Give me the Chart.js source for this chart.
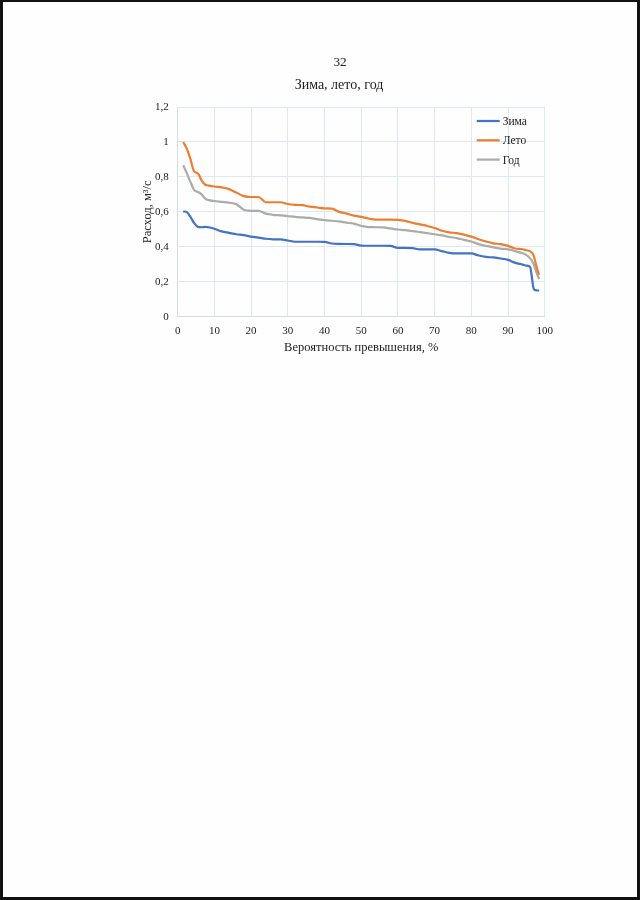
<!DOCTYPE html>
<html>
<head>
<meta charset="utf-8">
<script src="https://cdn.jsdelivr.net/npm/chart.js@4/dist/chart.umd.min.js"></script>
<style>
  html, body { margin: 0; padding: 0; background: #fff; }
  #page {
    position: relative; width: 640px; height: 900px; box-sizing: border-box;
    border-top: 2px solid #111; border-left: 3px solid #111;
    border-right: 3px solid #111; border-bottom: 3px solid #111;
    background: #fefefe; overflow: hidden;
  }
  #pageNum {
    position: absolute; left: 0; width: 674px; top: 52px; text-align: center;
    font-family: "Liberation Serif", serif; font-size: 13px; color: #222;
  }
  #wrap { position: absolute; left: 94px; top: 38px; width: 480px; height: 330px; }
</style>
</head>
<body>
<div id="page">
  <div id="pageNum">32</div>
  <div id="wrap"><canvas id="chart"></canvas></div>
</div>
<script>
// probability of exceedance, %
const probability = [1.5, 2.5, 3.5, 4.5, 5.5, 6.5, 7.5, 8.5, 10, 12, 14, 16, 18, 20, 22, 24, 26, 28, 30,
  32, 34, 36, 38, 40, 42, 44, 46, 48, 50, 52, 54, 56, 58, 60, 62, 64, 66, 68, 70, 72, 74, 76, 78, 80,
  82, 84, 86, 88, 90, 92, 94, 95, 96, 97, 97.5, 98, 98.5];

// discharge, m3/s
const winter = [0.603, 0.598, 0.57, 0.535, 0.514, 0.512, 0.514, 0.512, 0.503, 0.488, 0.48, 0.472, 0.467,
  0.458, 0.453, 0.446, 0.443, 0.442, 0.436, 0.429, 0.429, 0.429, 0.429, 0.428, 0.419, 0.417, 0.416, 0.415,
  0.407, 0.406, 0.406, 0.406, 0.405, 0.394, 0.394, 0.392, 0.385, 0.385, 0.385, 0.375, 0.365, 0.362, 0.362,
  0.362, 0.35, 0.342, 0.339, 0.333, 0.325, 0.308, 0.298, 0.292, 0.285, 0.16, 0.152, 0.15, 0.15];
const summer = [1.0, 0.96, 0.9, 0.83, 0.82, 0.78, 0.755, 0.75, 0.745, 0.74, 0.73, 0.71, 0.69, 0.685, 0.685,
  0.655, 0.655, 0.655, 0.645, 0.64, 0.638, 0.63, 0.625, 0.62, 0.618, 0.6, 0.59, 0.578, 0.571, 0.562, 0.556,
  0.556, 0.556, 0.554, 0.548, 0.537, 0.528, 0.519, 0.508, 0.492, 0.483, 0.478, 0.47, 0.458, 0.443, 0.43,
  0.42, 0.415, 0.405, 0.39, 0.386, 0.38, 0.375, 0.35, 0.31, 0.27, 0.24];
const year = [0.867, 0.82, 0.77, 0.724, 0.714, 0.7, 0.676, 0.667, 0.662, 0.657, 0.652, 0.644, 0.612, 0.606,
  0.606, 0.59, 0.583, 0.58, 0.576, 0.571, 0.568, 0.565, 0.558, 0.553, 0.549, 0.545, 0.538, 0.533, 0.52,
  0.513, 0.512, 0.511, 0.505, 0.499, 0.495, 0.49, 0.484, 0.478, 0.472, 0.465, 0.456, 0.45, 0.44, 0.43,
  0.415, 0.405, 0.397, 0.39, 0.385, 0.375, 0.363, 0.353, 0.335, 0.3, 0.27, 0.24, 0.215];

const seriesNames = ["Зима", "Лето", "Год"];
const seriesColors = ["#4472c4", "#ed7d31", "#a9aca9"];

const serif = "'Liberation Serif', 'Times New Roman', serif";
const gridColor = "#dfe8f1";

function toPoints(values) {
  return values.map((v, i) => ({ x: probability[i], y: v }));
}

// legend drawn inside the plot, top right
const insideLegend = {
  id: "insideLegend",
  afterDraw(chart) {
    const ctx = chart.ctx;
    const area = chart.chartArea;
    ctx.save();
    ctx.font = "11.5px " + serif;
    ctx.textBaseline = "middle";
    ctx.fillStyle = "#222";
    seriesNames.forEach((name, i) => {
      const y = area.top + 14 + i * 19.3;
      ctx.strokeStyle = seriesColors[i];
      ctx.lineWidth = 2.2;
      ctx.beginPath();
      ctx.moveTo(area.right - 68, y);
      ctx.lineTo(area.right - 45, y);
      ctx.stroke();
      ctx.fillText(name, area.right - 42, y + 1);
    });
    ctx.restore();
  },
};

const datasets = [winter, summer, year].map((vals, i) => ({
  label: seriesNames[i],
  data: toPoints(vals),
  borderColor: seriesColors[i],
  backgroundColor: seriesColors[i],
  borderWidth: 2.2,
  pointRadius: 0,
  cubicInterpolationMode: "monotone",
  fill: false,
}));

new Chart(document.getElementById("chart"), {
  type: "line",
  data: { datasets: datasets },
  options: {
    responsive: true,
    maintainAspectRatio: false,
    animation: false,
    layout: { padding: { left: 36.3, right: 32.3, bottom: 0 } },
    plugins: {
      legend: { display: false },
      tooltip: { enabled: false },
      title: {
        display: true,
        text: "Зима, лето, год",
        color: "#222",
        font: { family: serif, size: 14, weight: "normal" },
        padding: { top: 37, bottom: 13.2 },
      },
    },
    scales: {
      x: {
        type: "linear",
        min: 0,
        max: 100,
        afterFit: (scale) => { scale.height = 53.3; },
        ticks: { stepSize: 10, color: "#222", padding: 8, font: { family: serif, size: 11 } },
        grid: { color: gridColor, drawTicks: false },
        border: { color: "#d3dde8" },
        title: {
          display: true,
          text: "Вероятность превышения, %",
          color: "#222",
          font: { family: serif, size: 12.5 },
          padding: { top: 0, bottom: 15 },
        },
      },
      y: {
        min: 0,
        max: 1.2,
        afterFit: (scale) => { scale.width = 44.4; },
        ticks: {
          stepSize: 0.2,
          color: "#222",
          padding: 9,
          font: { family: serif, size: 11 },
          callback: (v) => String(Math.round(v * 10) / 10).replace(".", ","),
        },
        grid: { color: gridColor, drawTicks: false },
        border: { color: "#d3dde8" },
        title: {
          display: true,
          text: "Расход, м³/с",
          color: "#222",
          font: { family: serif, size: 12.5 },
          padding: { top: 7 },
        },
      },
    },
  },
  plugins: [insideLegend],
});
</script>
</body>
</html>
